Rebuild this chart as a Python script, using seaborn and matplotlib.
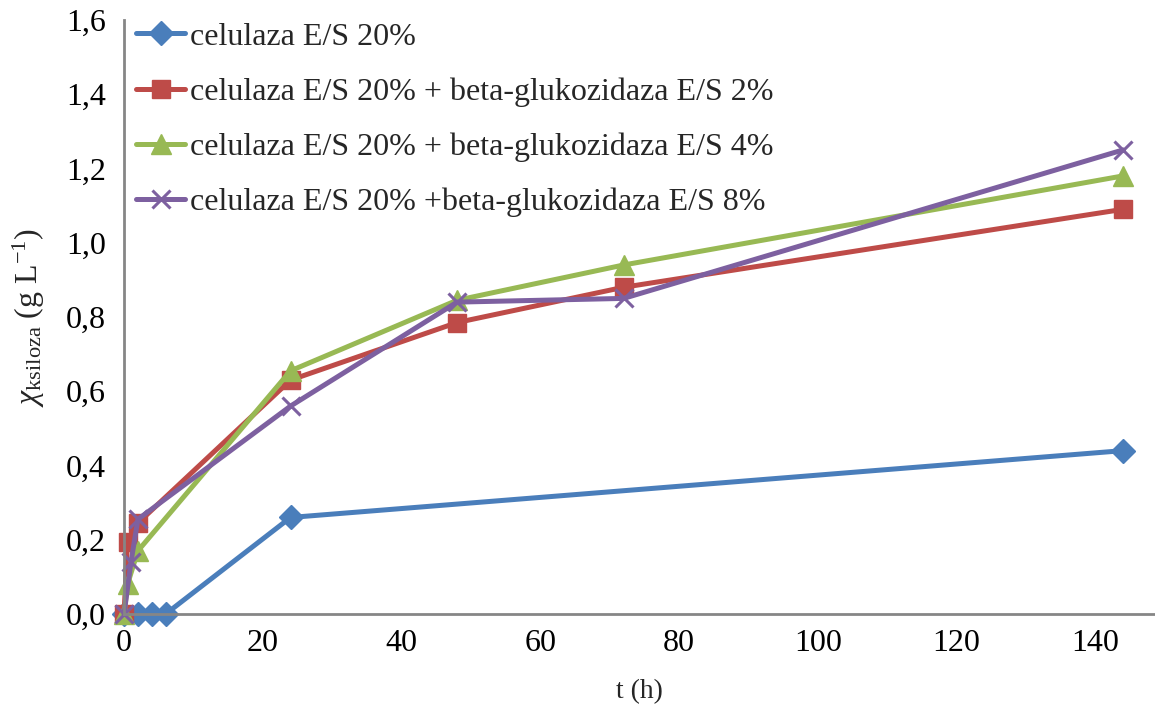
import numpy as np
import pandas as pd
import matplotlib
matplotlib.use("Agg")
import matplotlib.pyplot as plt
import seaborn as sns
from matplotlib.ticker import FuncFormatter, MultipleLocator

# time points (h) and xylose concentration (g/L)
t_cel = [0, 2, 4, 6, 24, 144]
y_cel = [0.0, 0.0, 0.0, 0.0, 0.26, 0.44]

t_bg2 = [0, 0.5, 2, 24, 48, 72, 144]
y_bg2 = [0.0, 0.195, 0.245, 0.63, 0.785, 0.88, 1.09]

t_bg4 = [0, 0.5, 2, 24, 48, 72, 144]
y_bg4 = [0.0, 0.08, 0.17, 0.655, 0.845, 0.94, 1.18]

t_bg8 = [0, 1, 2, 24, 48, 72, 144]
y_bg8 = [0.0, 0.14, 0.255, 0.56, 0.84, 0.85, 1.25]

labels = ["celulaza E/S 20%",
          "celulaza E/S 20% + beta-glukozidaza E/S 2%",
          "celulaza E/S 20% + beta-glukozidaza E/S 4%",
          "celulaza E/S 20% +beta-glukozidaza E/S 8%"]

sns.set_style("white")
plt.rcParams['font.family'] = ['Liberation Serif', 'DejaVu Serif']
plt.rcParams['mathtext.fontset'] = 'custom'
plt.rcParams['mathtext.rm'] = 'Liberation Serif'
plt.rcParams['mathtext.it'] = 'Liberation Serif:italic'

fig = plt.figure(figsize=(11.55, 7.08), dpi=100)
ax = fig.add_axes([0.1074, 0.1328, 0.8926, 0.839])

series = [
    (t_cel, y_cel, "#4A7EBB", "D", 12.5, 1),
    (t_bg2, y_bg2, "#BE4B48", "s", 13, 1),
    (t_bg4, y_bg4, "#98B954", "^", 14, 1),
    (t_bg8, y_bg8, "#7D60A0", "x", 13, 2.2),
]

for (tx, ty, col, mk, ms, mew), lab in zip(series, labels):
    df = pd.DataFrame({"t": tx, "c": ty})
    sns.lineplot(data=df, x="t", y="c", ax=ax, color=col, linewidth=3.6,
                 marker=mk, markersize=ms, markeredgecolor=col,
                 markeredgewidth=mew, label=lab, clip_on=False)

ax.set_xlim(0, 148.6)
ax.set_ylim(0, 1.6)
ax.xaxis.set_major_locator(MultipleLocator(20))
ax.yaxis.set_major_locator(MultipleLocator(0.2))
ax.yaxis.set_major_formatter(FuncFormatter(lambda v, p: f"{v:.1f}".replace(".", ",")))

for s in ["top", "right"]:
    ax.spines[s].set_visible(False)
for s in ["left", "bottom"]:
    ax.spines[s].set_color("#868686")
    ax.spines[s].set_linewidth(2)
ax.tick_params(axis="both", direction="out", length=7, width=1.5, color="#868686",
               labelsize=23, labelcolor="black", pad=6)
ax.tick_params(axis="x", pad=4)

ax.set_xlabel("t (h)", fontsize=20, labelpad=15)
ax.set_ylabel(r"$\chi_{\mathrm{ksiloza}}$ (g L$^{\mathrm{-1}}$)", fontsize=23, labelpad=14)

leg = ax.legend(loc="upper left", bbox_to_anchor=(-0.004, 1.023), frameon=False,
                fontsize=23, handlelength=1.55, handletextpad=0.15,
                labelspacing=0.8, borderaxespad=0.2, borderpad=0.3)

fig.savefig("out.png", dpi=100)
